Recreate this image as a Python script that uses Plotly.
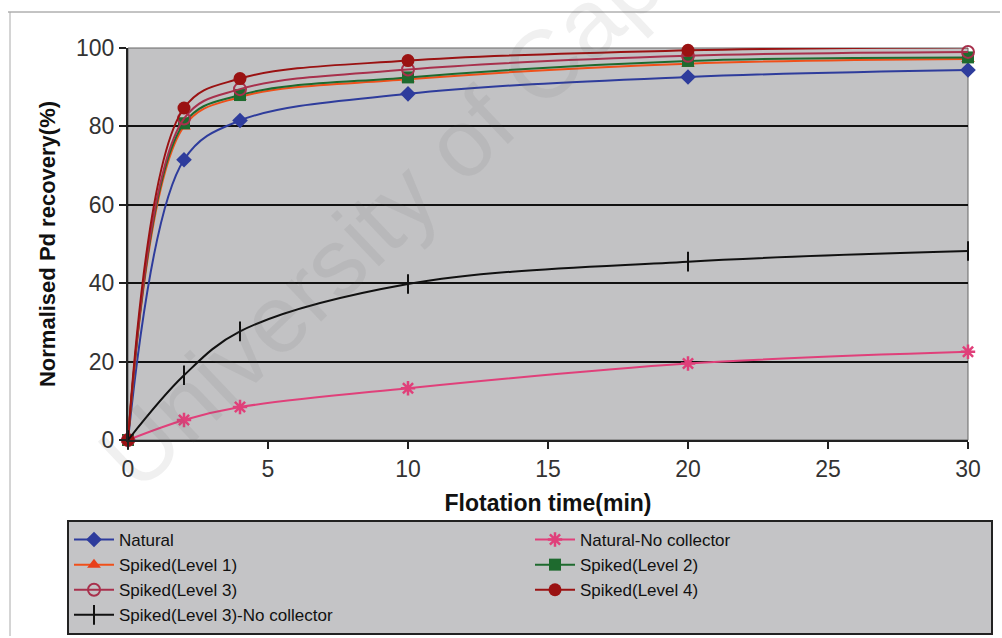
import plotly.graph_objects as go

time_min = [0, 2, 4, 10, 20, 30]
natural = [0, 71.5, 81.5, 88.3, 92.6, 94.4]
natural_nc = [0, 5.1, 8.4, 13.2, 19.5, 22.5]
spiked_l1 = [0, 80.0, 87.5, 92.0, 96.0, 97.2]
spiked_l2 = [0, 80.8, 88.0, 92.5, 96.7, 97.6]
spiked_l3 = [0, 82.0, 89.5, 94.5, 98.0, 99.0]
spiked_l4 = [0, 84.7, 92.2, 96.8, 99.4, 100.2]
spiked_l3_nc = [0, 16.5, 27.7, 39.8, 45.5, 48.2]

series = [
    ("Natural", natural, "#2e3c9c", dict(symbol="diamond", size=12, color="#2e3c9c")),
    ("Natural-No collector", natural_nc, "#e0407a",
     dict(symbol="asterisk", size=12, color="#e0407a", line=dict(width=2.5, color="#e0407a"))),
    ("Spiked(Level 1)", spiked_l1, "#f0501a", dict(symbol="triangle-up", size=12, color="#e8401c")),
    ("Spiked(Level 2)", spiked_l2, "#1e6a2e", dict(symbol="square", size=12, color="#1e6a2e")),
    ("Spiked(Level 3)", spiked_l3, "#a8304c",
     dict(symbol="circle-open", size=12, color="#a8304c", line=dict(width=2, color="#a8304c"))),
    ("Spiked(Level 4)", spiked_l4, "#9a1212", dict(symbol="circle", size=13, color="#9a1212")),
    ("Spiked(Level 3)-No collector", spiked_l3_nc, "#111111",
     dict(symbol="line-ns", size=14, color="#111111", line=dict(width=2, color="#111111"))),
]

fig = go.Figure()
for name, vals, col, mk in series:
    fig.add_trace(go.Scatter(
        x=time_min, y=vals, name=name, mode="lines+markers",
        line=dict(color=col, width=2, shape="spline", smoothing=1.0),
        marker=mk, cliponaxis=False,
    ))

font_family = "Liberation Sans, Arial, sans-serif"

fig.update_layout(
    width=1002, height=638,
    margin=dict(l=128, r=34, t=48, b=198, autoexpand=False),
    paper_bgcolor="white",
    plot_bgcolor="#c2c2c4",
    font=dict(family=font_family, size=22, color="#222"),
    showlegend=True,
    legend=dict(
        orientation="h",
        xref="paper", yref="paper",
        x=(67 - 128) / 840, y=(440 - 520) / 392, xanchor="left", yanchor="top",
        bgcolor="#c4c4c6", bordercolor="#222", borderwidth=2,
        font=dict(size=17, family=font_family, color="#111"),
        entrywidth=406, entrywidthmode="pixels",
        tracegroupgap=0, itemwidth=40,
    ),
    xaxis=dict(
        range=[0, 30], tickvals=[0, 5, 10, 15, 20, 25, 30],
        showgrid=False, zeroline=False,
        showline=True, linecolor="#222", linewidth=2,
        ticks="outside", ticklen=7, tickcolor="#222", tickwidth=2,
        tickfont=dict(size=23, color="#333"),
        title=dict(text="<b>Flotation time(min)</b>", font=dict(size=23, color="#111"), standoff=14),
    ),
    yaxis=dict(
        range=[0, 100], tickvals=[0, 20, 40, 60, 80, 100],
        showgrid=True, gridcolor="#111", gridwidth=2,
        zeroline=False,
        showline=True, linecolor="#222", linewidth=2,
        ticks="outside", ticklen=7, tickcolor="#222", tickwidth=2,
        tickfont=dict(size=23, color="#333"),
        title=dict(text="<b>Normalised Pd recovery(%)</b>", font=dict(size=22, color="#111"), standoff=14),
    ),
    shapes=[
        dict(type="rect", xref="paper", yref="paper", x0=0, x1=1, y0=0, y1=1,
             line=dict(color="#666", width=1), layer="below"),
        dict(type="line", xref="paper", yref="paper",
             x0=(8 - 128) / 840, x1=(1000 - 128) / 840, y0=(440 - 12) / 392, y1=(440 - 12) / 392,
             line=dict(color="#888", width=1)),
        dict(type="line", xref="paper", yref="paper",
             x0=(10 - 128) / 840, x1=(10 - 128) / 840, y0=(440 - 12) / 392, y1=(440 - 636) / 392,
             line=dict(color="#aaa", width=1)),
    ],
    annotations=[
        dict(text="University of Cape Town", xref="paper", yref="paper",
             x=(489 - 128) / 840, y=(440 - 115) / 392, xanchor="center", yanchor="middle",
             showarrow=False, textangle=-43.5,
             font=dict(size=96, color="rgba(90,90,90,0.09)", family=font_family)),
    ],
)

fig.write_html("out.html")
